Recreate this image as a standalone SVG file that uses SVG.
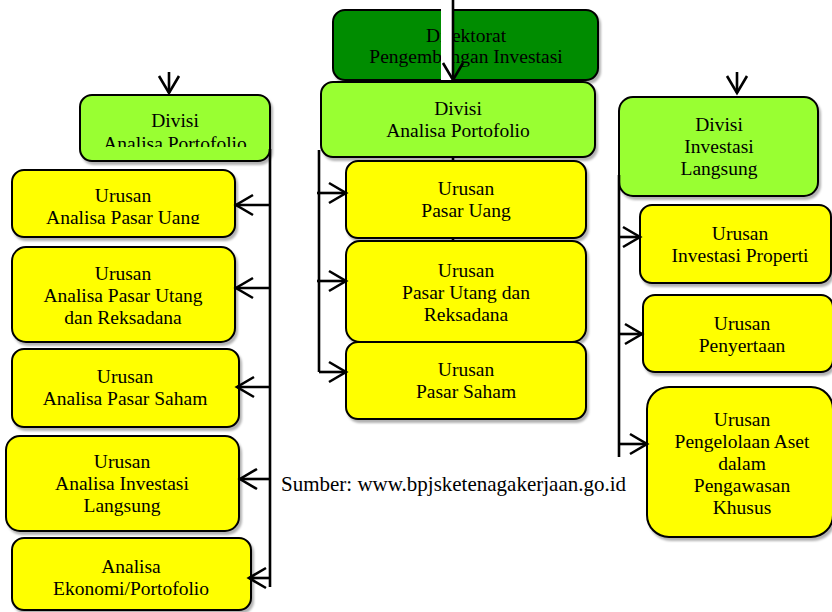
<svg xmlns="http://www.w3.org/2000/svg" width="832" height="612" viewBox="0 0 832 612">
<style>
.box{stroke:#000;stroke-width:2;filter:url(#sh)}
.dk{fill:#008c00}
.lg{fill:#99ff33}
.ye{fill:#ffff00}
.t{font-family:"Liberation Serif","Times New Roman",serif;font-size:19.5px;fill:#000;text-anchor:middle}
.src{font-family:"Liberation Serif","Times New Roman",serif;font-size:21px;fill:#000}
.cn{stroke:#000;stroke-width:2.6;fill:none}
</style>
<defs>
<filter id="sh" x="-10%" y="-10%" width="125%" height="130%">
<feDropShadow dx="2" dy="3" stdDeviation="1.2" flood-color="#000" flood-opacity="0.3"/>
</filter>
<marker id="ah" viewBox="-20 -12 24 24" refX="0" refY="0" markerWidth="24" markerHeight="24" markerUnits="userSpaceOnUse" orient="auto">
<path d="M-17,-10 L0,0 L-17,10" fill="none" stroke="#000" stroke-width="2.6"/>
</marker>
<clipPath id="c1"><rect x="80" y="95" width="190" height="52"/></clipPath>
<clipPath id="c2"><rect x="12" y="170" width="223" height="54"/></clipPath>
</defs>
<rect width="832" height="612" fill="#fff"/>

<g id="direktorat">
<rect class="box dk" x="333" y="10" width="265" height="70" rx="12"/>
<text class="t" x="466" y="42">Direktorat</text>
<text class="t" x="466" y="63">Pengembangan Investasi</text>
</g>

<g id="connector-back">
<line class="cn" x1="453" y1="157" x2="453" y2="342"/>
</g>

<g id="divisi-tengah">
<rect class="box lg" x="321" y="82" width="274" height="75" rx="12"/>
<text class="t" x="458" y="115">Divisi</text>
<text class="t" x="458" y="137">Analisa Portofolio</text>
</g>

<g id="divisi-kiri">
<rect class="box lg" x="80" y="95" width="190" height="66" rx="12"/>
<text class="t" x="175" y="127">Divisi</text>
<text class="t" x="175" y="150" clip-path="url(#c1)">Analisa Portofolio</text>
</g>

<g id="divisi-kanan">
<rect class="box lg" x="619" y="97" width="199" height="99" rx="14"/>
<text class="t" x="719" y="131">Divisi</text>
<text class="t" x="719" y="153">Investasi</text>
<text class="t" x="719" y="175">Langsung</text>
</g>

<g id="urusan-analisa-pasar-uang">
<rect class="box ye" x="12" y="170" width="223" height="67" rx="12"/>
<text class="t" x="123" y="202">Urusan</text>
<text class="t" x="123" y="224" clip-path="url(#c2)">Analisa Pasar Uang</text>
</g>

<g id="urusan-analisa-pasar-utang">
<rect class="box ye" x="12" y="247" width="223" height="95" rx="14"/>
<text class="t" x="123" y="280">Urusan</text>
<text class="t" x="123" y="302">Analisa Pasar Utang</text>
<text class="t" x="123" y="324">dan Reksadana</text>
</g>

<g id="urusan-analisa-pasar-saham">
<rect class="box ye" x="12" y="349" width="227" height="78" rx="12"/>
<text class="t" x="125" y="383">Urusan</text>
<text class="t" x="125" y="405">Analisa Pasar Saham</text>
</g>

<g id="urusan-analisa-investasi-langsung">
<rect class="box ye" x="6" y="436" width="233" height="95" rx="14"/>
<text class="t" x="122" y="468">Urusan</text>
<text class="t" x="122" y="490">Analisa Investasi</text>
<text class="t" x="122" y="512">Langsung</text>
</g>

<g id="analisa-ekonomi-portofolio">
<rect class="box ye" x="12" y="538" width="239" height="72" rx="12"/>
<text class="t" x="131" y="573">Analisa</text>
<text class="t" x="131" y="595">Ekonomi/Portofolio</text>
</g>

<g id="urusan-pasar-uang">
<rect class="box ye" x="346" y="161" width="240" height="77" rx="12"/>
<text class="t" x="466" y="195">Urusan</text>
<text class="t" x="466" y="217">Pasar Uang</text>
</g>

<g id="urusan-pasar-utang">
<rect class="box ye" x="346" y="241" width="240" height="101" rx="14"/>
<text class="t" x="466" y="277">Urusan</text>
<text class="t" x="466" y="299">Pasar Utang dan</text>
<text class="t" x="466" y="321">Reksadana</text>
</g>

<g id="urusan-pasar-saham">
<rect class="box ye" x="346" y="342" width="240" height="77" rx="12"/>
<text class="t" x="466" y="376">Urusan</text>
<text class="t" x="466" y="398">Pasar Saham</text>
</g>

<g id="urusan-investasi-properti">
<rect class="box ye" x="640" y="205" width="191" height="78" rx="12"/>
<text class="t" x="740" y="240">Urusan</text>
<text class="t" x="740" y="262">Investasi Properti</text>
</g>

<g id="urusan-penyertaan">
<rect class="box ye" x="643" y="295" width="190" height="77" rx="12"/>
<text class="t" x="742" y="330">Urusan</text>
<text class="t" x="742" y="352">Penyertaan</text>
</g>

<g id="urusan-pengelolaan-aset">
<rect class="box ye" x="647" y="387" width="186" height="150" rx="22"/>
<text class="t" x="742" y="426">Urusan</text>
<text class="t" x="742" y="448">Pengelolaan Aset</text>
<text class="t" x="742" y="470">dalam</text>
<text class="t" x="742" y="492">Pengawasan</text>
<text class="t" x="742" y="514">Khusus</text>
</g>

<g id="connectors">
<rect x="441" y="0" width="11" height="80" fill="#fff"/>
<path class="cn" d="M453,0 V80" marker-end="url(#ah)"/>
<path class="cn" d="M169,72 V93" marker-end="url(#ah)"/>
<path class="cn" d="M737,72 V93" marker-end="url(#ah)"/>
<path class="cn" d="M270,149 V587"/>
<path class="cn" d="M270,205 H236" marker-end="url(#ah)"/>
<path class="cn" d="M270,288 H236" marker-end="url(#ah)"/>
<path class="cn" d="M270,387 H237" marker-end="url(#ah)"/>
<path class="cn" d="M270,479 H240" marker-end="url(#ah)"/>
<path class="cn" d="M270,578 H249" marker-end="url(#ah)"/>
<path class="cn" d="M319,150 V372"/>
<path class="cn" d="M317,193 H346" marker-end="url(#ah)"/>
<path class="cn" d="M317,281 H346" marker-end="url(#ah)"/>
<path class="cn" d="M319,372 H346" marker-end="url(#ah)"/>
<path class="cn" d="M619,175 V457"/>
<path class="cn" d="M619,237 H640" marker-end="url(#ah)"/>
<path class="cn" d="M619,334 H642" marker-end="url(#ah)"/>
<path class="cn" d="M619,444 H647" marker-end="url(#ah)"/>
</g>

<text class="src" x="281" y="491">Sumber: www.bpjsketenagakerjaan.go.id</text>
</svg>
